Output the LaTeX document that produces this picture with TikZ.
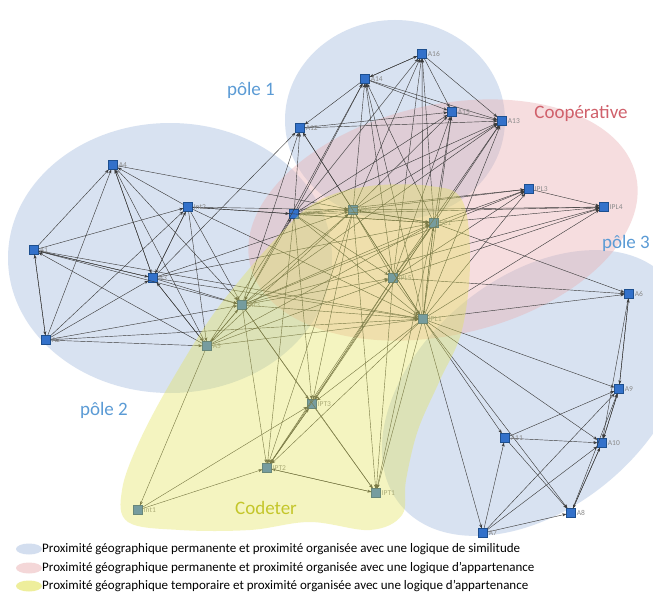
\documentclass[tikz,border=0pt]{standalone}
\usepackage{fontspec}
\setmainfont{Carlito}
\usetikzlibrary{arrows.meta}
\definecolor{blueblob}{HTML}{A9BFE0}
\definecolor{pinkblob}{HTML}{EAB0B3}
\definecolor{yellowblob}{HTML}{E4E45A}
\definecolor{nodeblue}{HTML}{3371CA}
\definecolor{nodeedge}{HTML}{1D4F8F}
\definecolor{edgecol}{HTML}{3A3A3A}
\definecolor{polecol}{HTML}{5B9BD5}
\definecolor{coopcol}{HTML}{D0606B}
\definecolor{codcol}{HTML}{C4C62A}
\definecolor{labcol}{HTML}{8A8A8A}
\begin{document}
\begin{tikzpicture}[x=1pt,y=-1pt,
  nd/.style={rectangle, minimum size=9pt, inner sep=0pt, fill=nodeblue, draw=nodeedge, line width=0.3pt},
  lab/.style={font=\fontsize{7.5}{8}\selectfont, text=labcol, inner sep=0.5pt, anchor=west},
  e/.style={draw=edgecol, line width=0.42pt, -{Stealth[length=4pt,width=3pt]}},
  blob/.style={opacity=0.45},
  big/.style={font=\fontsize{19}{21}\selectfont},
  leg/.style={font=\fontsize{13}{14}\selectfont, anchor=west, inner sep=0pt}]
\useasboundingbox (0,0) rectangle (653,594);
\fill[white] (0,0) rectangle (653,594);
% blobs under
\fill[blueblob, blob] (395,120) ellipse [x radius=110, y radius=100];
\fill[blueblob, blob] (170,258) ellipse [x radius=162, y radius=135];
\fill[blueblob, blob, rotate around={40:(535,393)}] (535,393) ellipse [x radius=175, y radius=115];
\fill[pinkblob, opacity=0.42, rotate around={13:(443,220)}] (443,220) ellipse [x radius=198, y radius=115];
% nodes
\node[nd] (A16) at (422,54) {};
\node[nd] (A14) at (365,79) {};
\node[nd] (A15) at (452,112) {};
\node[nd] (A13) at (502,121) {};
\node[nd] (A12) at (300,128) {};
\node[nd] (A4) at (113,165) {};
\node[nd] (Int2) at (188,207) {};
\node[nd] (A17) at (294,214) {};
\node[nd] (IPL2) at (353,210) {};
\node[nd] (SC1) at (434,223) {};
\node[nd] (IPL3) at (529,189) {};
\node[nd] (IPL4) at (604,207) {};
\node[nd] (A1) at (34,250) {};
\node[nd] (A3) at (153,278) {};
\node[nd] (IPL5) at (393,278) {};
\node[nd] (Int3) at (242,305) {};
\node[nd] (A6) at (629,294) {};
\node[nd] (IPL1) at (423,319) {};
\node[nd] (A2) at (46,340) {};
\node[nd] (A5) at (207,346) {};
\node[nd] (IPT3) at (312,404) {};
\node[nd] (A9) at (619,389) {};
\node[nd] (A11) at (505,438) {};
\node[nd] (A10) at (602,443) {};
\node[nd] (IPT2) at (267,468) {};
\node[nd] (IPT1) at (376,493) {};
\node[nd] (Int1) at (138,510) {};
\node[nd] (A8) at (571,513) {};
\node[nd] (A7) at (483,533) {};
% edges
\foreach \s/\t in {A14/A16, A16/A14, A16/A15, A16/A13, A14/A15, A14/A13, A12/A15, A12/A13, A15/A13, A14/A12,
  IPL2/A16, SC1/A16, IPL1/A16, IPL5/A16, A17/A16,
  IPL2/A14, A17/A14, Int3/A14, SC1/A14, IPL1/A14, IPL5/A14,
  A17/A12, IPL2/A12, Int3/A12, A3/A12, IPL1/A12,
  IPL2/A15, SC1/A15, IPL1/A15, IPL5/A15, A17/A15,
  SC1/A13, IPL1/A13, IPL5/A13, IPL2/A13, Int3/A13, A17/A13,
  IPL2/SC1, SC1/IPL2, IPL2/IPL5, IPL2/IPL1, IPL2/IPL3, IPL2/IPL4, A17/IPL2, Int3/IPL2, A5/IPL2, IPL2/IPT3, IPL2/IPT2, IPL2/IPT1, Int2/IPL2, A4/IPL2, A3/IPL2,
  SC1/IPL5, SC1/IPL1, IPL1/SC1, SC1/IPL3, SC1/IPL4, SC1/A6, A17/SC1, Int3/SC1, A5/SC1, SC1/IPT3, SC1/IPT1, SC1/IPT2, A3/SC1, Int2/SC1,
  IPL5/IPL1, IPL5/IPL3, IPL5/IPL4, IPL5/A6, A17/IPL5, Int3/IPL5, A5/IPL5, IPL5/IPT3, IPL5/IPT2, IPL5/IPT1,
  IPL1/IPL3, IPL1/IPL4, IPL1/A6, IPL1/A9, IPL1/A10, IPL1/A11, IPL1/A8, IPL1/A7, IPL1/IPT1, IPL1/IPT3, IPL1/IPT2, Int3/IPL1, A5/IPL1, A17/IPL1, A3/IPL1, Int2/IPL1, A1/IPL1, A2/IPL1,
  Int2/A17, A17/Int3, A5/A17, A17/IPT3, A17/IPT2, A17/IPL3, A17/IPL4,
  A1/Int3, A3/Int3, A4/Int3, Int2/Int3, A2/Int3, A5/Int3, Int3/A5, Int3/IPT3, Int3/IPT2, Int3/IPT1, Int3/IPL3, Int3/IPL4,
  A1/A4, A2/A4, A3/A4, Int2/A4, A5/A4, A1/Int2, A1/A3, A3/A1, A1/A2, A2/A1, A2/Int2, A5/A1, A2/A5, A3/Int2, Int2/A3, A5/A3, A3/A5, Int2/A5, A4/A3, A2/A3,
  IPL3/IPL4, A6/A9, A9/A6, A6/A10, A9/A10, A10/A9, A11/A9, A11/A10, A11/A8, A7/A11, A7/A9, A7/A10, A7/A8, A8/A10, A10/A8, A8/A9,
  Int1/IPT2, Int1/IPT3, A5/Int1, IPT3/IPT1, IPT2/IPT1, IPT1/IPT2, IPT2/IPT3, IPT3/IPT2}
  \draw[e] (\s) -- (\t);
% node labels
\foreach \n in {A16,A14,A15,A13,A12,A4,Int2,A17,IPL2,SC1,IPL3,IPL4,A1,A3,IPL5,Int3,A6,IPL1,A2,A5,IPT3,A9,A11,A10,IPT2,IPT1,Int1,A8,A7}
  \node[lab] (\n-l) at ([xshift=0.5pt]\n.east) {\n};
% yellow blob on top
\fill[yellowblob, opacity=0.38] plot[smooth cycle, tension=0.6] coordinates {
  (282,232) (320,200) (370,186) (430,186) (462,200) (470,260) (462,330) (440,380)
  (418,430) (406,480) (402,515) (370,530) (310,522) (250,530) (180,530) (128,522)
  (122,490) (140,440) (175,375) (220,305)};
% titles
\node[big, text=polecol] (p1) at (251,90) {pôle 1};
\node[big, text=polecol] (p2) at (104,410) {pôle 2};
\node[big, text=polecol] (p3) at (626,243) {pôle 3};
\node[big, text=coopcol] (coop) at (581,113) {Coopérative};
\node[big, text=codcol] (cod) at (266,508) {Codeter};
% legend
\fill[blueblob, opacity=0.5] (29,549) ellipse [x radius=13, y radius=5.5];
\fill[pinkblob, opacity=0.5] (29,568) ellipse [x radius=13, y radius=5.5];
\fill[yellowblob, opacity=0.6] (29,586) ellipse [x radius=13, y radius=5.5];
\node[leg] (l1) at (42,549) {Proximité géographique permanente et proximité organisée avec une logique de similitude};
\node[leg] (l2) at (42,568) {Proximité géographique permanente et proximité organisée avec une logique d’appartenance};
\node[leg] (l3) at (42,586) {Proximité géographique temporaire et proximité organisée avec une logique d’appartenance};
\end{tikzpicture}
\end{document}
